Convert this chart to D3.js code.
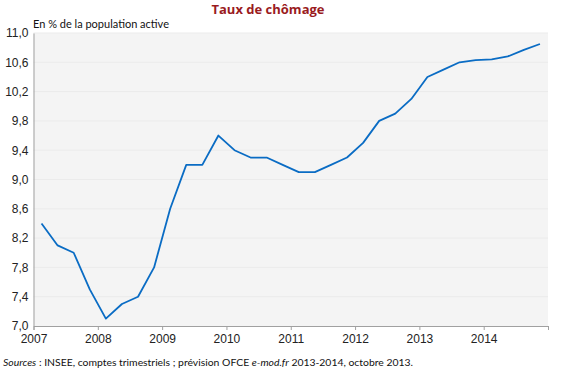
<!DOCTYPE html>
<html><head><meta charset="utf-8">
<script src="https://cdn.jsdelivr.net/npm/d3@7"></script>
<style>body{margin:0;background:#fff;} svg{display:block;font-family:"Open Sans",sans-serif;}</style>
</head><body>
<script>
const title = "Taux de chômage";
const subtitle = "En % de la population active";
const years = ["2007","2008","2009","2010","2011","2012","2013","2014"];
const quarters = [];
years.forEach(y => [1,2,3,4].forEach(q => quarters.push(y + "T" + q)));
const values = [8.4,8.1,8.0,7.5, 7.1,7.3,7.4,7.8, 8.6,9.2,9.2,9.6, 9.4,9.3,9.3,9.2,
                9.1,9.1,9.2,9.3, 9.5,9.8,9.9,10.1, 10.4,10.5,10.6,10.63, 10.64,10.68,10.77,10.85];
const yTicks = [7.0,7.4,7.8,8.2,8.6,9.0,9.4,9.8,10.2,10.6,11.0];

const W = 562, H = 372;
const m = {l:33.5, r:14, t:33, b:46};
const svg = d3.select("body").append("svg").attr("width",W).attr("height",H);

const x = d3.scaleBand().domain(quarters).range([m.l, W - m.r]).padding(0);
const xYear = d3.scaleLinear().domain([2007, 2015]).range([m.l, W - m.r]);
const y = d3.scaleLinear().domain([7, 11]).range([H - m.b, m.t]);

svg.append("rect").attr("x",m.l).attr("y",m.t).attr("width",W-m.r-m.l).attr("height",H-m.b-m.t).attr("fill","#f4f4f4");

// gridlines
svg.append("g").selectAll("line").data(yTicks.slice(1)).join("line")
  .attr("x1",m.l).attr("x2",W-m.r).attr("y1",d=>y(d)).attr("y2",d=>y(d))
  .attr("stroke","#ebebeb").attr("stroke-width",1);

// y axis
const yAxis = svg.append("g").attr("transform",`translate(${m.l},0)`)
  .call(d3.axisLeft(y).tickValues(yTicks).tickSize(0).tickPadding(5)
    .tickFormat(d => d3.format(".1f")(d).replace(".",",")));
yAxis.select(".domain").attr("stroke","#a0a0a0");
yAxis.selectAll("text").attr("font-size",12).attr("fill","#222");

// x axis
const xAxis = svg.append("g").attr("transform",`translate(0,${H-m.b})`)
  .call(d3.axisBottom(xYear).tickValues(d3.range(2007,2016)).tickSize(4).tickPadding(4)
    .tickFormat(d => d <= 2014 ? String(d) : ""));
xAxis.select(".domain").attr("stroke","#a0a0a0");
xAxis.selectAll("line").attr("stroke","#a0a0a0");
xAxis.selectAll("text").attr("font-size",12).attr("fill","#222");

// line
const line = d3.line().x((d,i)=>x(quarters[i]) + x.bandwidth()/2).y(d=>y(d));
svg.append("path").datum(values).attr("d",line).attr("fill","none")
  .attr("stroke","#0a6cc4").attr("stroke-width",1.8).attr("stroke-linejoin","round");

// texts
svg.append("text").attr("x",268).attr("y",14).attr("text-anchor","middle")
  .attr("font-size",13).attr("font-weight","bold").attr("fill","#9a1b1e").text(title);
svg.append("text").attr("x",33).attr("y",28).attr("font-family","Lato, sans-serif")
  .attr("font-size",11).attr("fill","#111").text(subtitle);

const src = svg.append("text").attr("x",3).attr("y",366).attr("font-family","Lato, sans-serif")
  .attr("font-size",10.4).attr("fill","#111");
src.append("tspan").attr("font-style","italic").text("Sources");
src.append("tspan").text(" : INSEE, comptes trimestriels ; prévision OFCE ");
src.append("tspan").attr("font-style","italic").text("e-mod.fr");
src.append("tspan").text(" 2013-2014, octobre 2013.");
</script>
</body></html>
